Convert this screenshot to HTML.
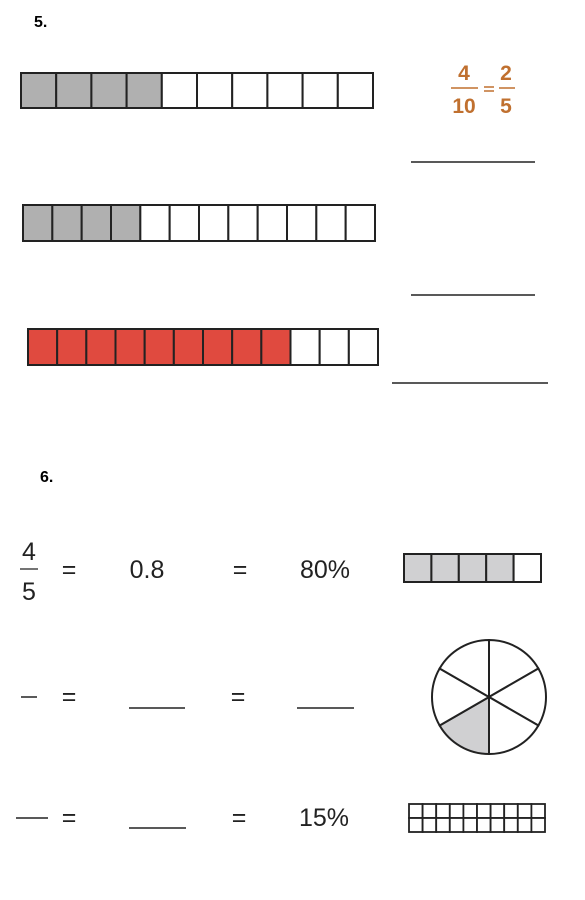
<!DOCTYPE html>
<html><head><meta charset="utf-8"><style>
body{margin:0;background:#fff;width:585px;height:900px;overflow:hidden}
svg{display:block}
text{font-family:"Liberation Sans",sans-serif}
</style></head><body>
<svg width="585" height="900" viewBox="0 0 585 900">
<text x="34" y="27" font-size="16" font-weight="bold">5.</text>
<g id="bars"></g>
<g fill="#c0702f" font-weight="bold" font-size="21" text-anchor="middle">
<text x="464" y="80">4</text><line x1="451" y1="88" x2="478" y2="88" stroke="#c0702f" stroke-width="1.5"/>
<text x="464" y="113">10</text>
<line x1="484" y1="87" x2="494" y2="87" stroke="#c0702f" stroke-width="1.5"/><line x1="484" y1="91" x2="494" y2="91" stroke="#c0702f" stroke-width="1.5"/>
<text x="506" y="80">2</text><line x1="499" y1="88" x2="515" y2="88" stroke="#c0702f" stroke-width="1.5"/>
<text x="506" y="113">5</text>
</g>
<g stroke="#222" stroke-width="1.5">
<line x1="411" y1="162" x2="535" y2="162"/>
<line x1="411" y1="295" x2="535" y2="295"/>
<line x1="392" y1="383" x2="548" y2="383"/>
</g>
<text x="40" y="482" font-size="16" font-weight="bold">6.</text>
<g font-size="25" fill="#222">
<text x="29" y="560" text-anchor="middle">4</text><line x1="20" y1="569" x2="38" y2="569" stroke="#222" stroke-width="1.2"/>
<text x="29" y="600" text-anchor="middle">5</text>
<text x="69" y="578" text-anchor="middle">=</text>
<text x="147" y="578" text-anchor="middle">0.8</text>
<text x="240" y="578" text-anchor="middle">=</text>
<text x="325" y="578" text-anchor="middle">80%</text>
</g>
<g font-size="25" fill="#222">
<line x1="21" y1="697" x2="37" y2="697" stroke="#222" stroke-width="1.5"/>
<text x="69" y="705" text-anchor="middle">=</text>
<line x1="129" y1="708" x2="185" y2="708" stroke="#222" stroke-width="1.5"/>
<text x="238" y="705" text-anchor="middle">=</text>
<line x1="297" y1="708" x2="354" y2="708" stroke="#222" stroke-width="1.5"/>
</g>
<g id="pie"></g>
<g font-size="25" fill="#222">
<line x1="16" y1="818" x2="48" y2="818" stroke="#222" stroke-width="1.5"/>
<text x="69" y="826" text-anchor="middle">=</text>
<line x1="129" y1="828" x2="186" y2="828" stroke="#222" stroke-width="1.5"/>
<text x="239" y="826" text-anchor="middle">=</text>
<text x="324" y="826" text-anchor="middle">15%</text>
</g>
</svg>
<script>
const barCells=[10,12,12,5];
const barFilled=[4,4,9,4];
const barColors=['#b0b0b0','#b0b0b0','#e04a3f','#d0d0d2'];
const gridCols=10, gridRows=2;
const pieSlices=6, pieShaded=[3];
const NS='http://www.w3.org/2000/svg';
const boxes=[[21,73,373,108],[23,205,375,241],[28,329,378,365],[404,554,541,582]];
const bg=document.getElementById('bars');
function mk(t,a){const e=document.createElementNS(NS,t);for(const k in a)e.setAttribute(k,a[k]);return e;}
barCells.forEach((n,i)=>{
  const [x0,y0,x1,y1]=boxes[i];const w=(x1-x0)/n;
  for(let j=0;j<n;j++){
    const r=mk('rect',{x:x0+j*w,y:y0,width:w,height:y1-y0,fill:j<barFilled[i]?barColors[i]:'#fff',stroke:'#222','stroke-width':2});
    
    
    bg.appendChild(r);
  }
});
{const x0=409,y0=804,x1=545,y1=832,w=(x1-x0)/gridCols,h=(y1-y0)/gridRows;
for(let r=0;r<gridRows;r++)for(let c=0;c<gridCols;c++){
  const e=mk('rect',{x:x0+c*w,y:y0+r*h,width:w,height:h,fill:'#fff',stroke:'#222','stroke-width':1.8});
  
  
  bg.appendChild(e);
}}
{const pg=document.getElementById('pie');const cx=489,cy=697,rx=57,ry=57;
for(let i=0;i<pieSlices;i++){
  const a0=i*2*Math.PI/pieSlices,a1=(i+1)*2*Math.PI/pieSlices;
  const p=(a)=>[cx+rx*Math.sin(a),cy-ry*Math.cos(a)];
  const [xa,ya]=p(a0),[xb,yb]=p(a1);
  const s=mk('path',{d:`M${cx},${cy}L${xa},${ya}A${rx},${ry} 0 0 1 ${xb},${yb}Z`,fill:pieShaded.includes(i)?'#d0d0d2':'#fff',stroke:'#222','stroke-width':2});
  
  
  pg.appendChild(s);
}}
</script>
</body></html>
